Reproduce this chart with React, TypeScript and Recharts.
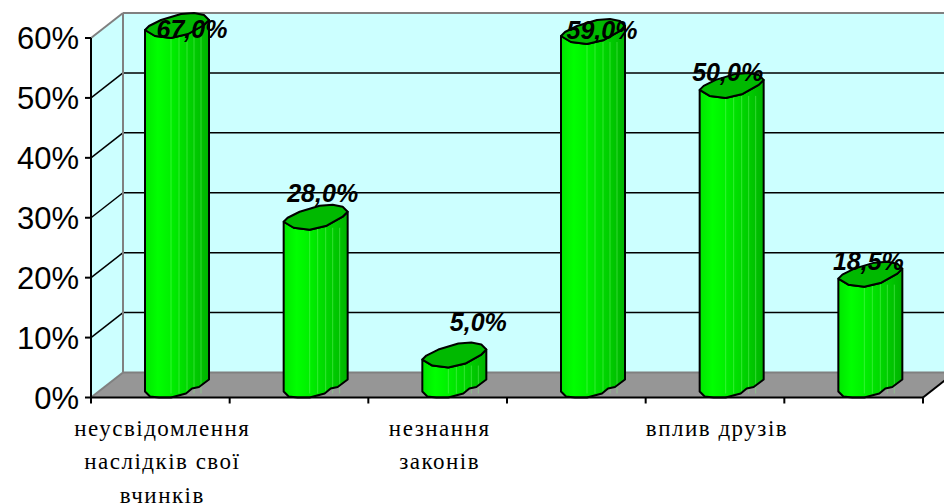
import { Bar, BarChart, LabelList, XAxis, YAxis, usePlotArea } from 'recharts';

const categories = ['неусвідомлення\nнаслідків свої\nвчинків', ' ', 'незнання\nзаконів', '  ', 'вплив друзів', '   '];
const shares = [67, 28, 5, 59, 50, 18.5];
const valueTicks = [0, 10, 20, 30, 40, 50, 60];
const MAX_VALUE = 60;

// hand-moved data labels in the original, dx/dy from the bar's top left
const labelNudges = [[47, -8], [39, -36], [56, -45], [41, -13], [28, -25], [30, -25]];

const data = categories.map((category, i) => ({ category, share: shares[i] }));

const DEPTH_X = 32;
const DEPTH_Y = 25;
const BAR_WIDTH = 64;
const BAR_SHIFT = 17; // cylinders stand in the middle of the floor depth
const WALL = '#ccffff';
const FLOOR = '#969696';
const EDGE = '#808080';

// outline of the top and bottom of a cylinder, as drawn in the source image
const topRim = [[0, -8], [4, -12], [16, -18], [36, -24], [49, -25], [59, -23], [64, -18], [59, -13], [43, -4], [26, 0], [10, -2]];
const bottomRim = [[0, -6], [5, -1], [14, 0], [26, 0], [41, -4], [47, -9], [54, -10.5], [64, -18]];
const frontRim = [[64, -18], [59, -13], [43, -4], [26, 0], [10, -2], [0, -8]];
const stripes = [26, 34, 42, 49, 56];

const pts = (list: number[][], x: number, y: number) => list.map(([a, b]) => `${x + a},${y + b}`).join(' L');

function Cylinder(props: any) {
  const left = props.x + BAR_SHIFT;
  const top = props.y;
  const base = props.y + props.height;
  const side = `M${pts(bottomRim, left, base)} L${pts(frontRim, left, top)} Z`;
  return (
    <g>
      <path d={side} fill="url(#cylinderSide)" stroke="none" />
      {stripes.map((s) => (
        <line key={s} x1={left + s} x2={left + s} y1={top - 2} y2={base - 4} stroke="#7dff7d" strokeOpacity={0.4} strokeWidth={1} />
      ))}
      <path d={side} fill="none" stroke="#000" strokeWidth={2} strokeLinejoin="round" />
      <path d={`M${pts(topRim, left, top)} Z`} fill="#00b900" stroke="#000" strokeWidth={2} strokeLinejoin="round" />
    </g>
  );
}

function Backdrop() {
  const plot = usePlotArea();
  if (!plot) return null;
  const { x, y, width, height } = plot;
  const right = x + width;
  const bottom = y + height;
  const yOf = (v: number) => bottom - (v / MAX_VALUE) * height;
  const step = width / categories.length;
  return (
    <g>
      <defs>
        <linearGradient id="cylinderSide" x1="0" x2="1" y1="0" y2="0">
          <stop offset="0" stopColor="#00e600" />
          <stop offset="0.2" stopColor="#00ff00" />
          <stop offset="0.4" stopColor="#00f000" />
          <stop offset="0.65" stopColor="#00d800" />
          <stop offset="1" stopColor="#00b400" />
        </linearGradient>
      </defs>
      <rect x={x + DEPTH_X} y={y - DEPTH_Y} width={width} height={height} fill={WALL} />
      <polygon points={`${x},${y} ${x + DEPTH_X},${y - DEPTH_Y} ${x + DEPTH_X},${bottom - DEPTH_Y} ${x},${bottom}`} fill={WALL} />
      <polygon points={`${x},${bottom} ${x + DEPTH_X},${bottom - DEPTH_Y} ${right + DEPTH_X},${bottom - DEPTH_Y} ${right},${bottom}`} fill={FLOOR} />
      {valueTicks.filter((v) => v > 0 && v < MAX_VALUE).map((v) => (
        <g key={v} stroke="#000" strokeWidth={1.5}>
          <line x1={x} y1={yOf(v)} x2={x + DEPTH_X} y2={yOf(v) - DEPTH_Y} />
          <line x1={x + DEPTH_X} y1={yOf(v) - DEPTH_Y} x2={right + DEPTH_X} y2={yOf(v) - DEPTH_Y} />
        </g>
      ))}
      <g stroke={EDGE} strokeWidth={2}>
        <line x1={x} y1={y} x2={x + DEPTH_X} y2={y - DEPTH_Y} />
        <line x1={x + DEPTH_X} y1={y - DEPTH_Y} x2={right + DEPTH_X} y2={y - DEPTH_Y} />
        <line x1={x + DEPTH_X} y1={y - DEPTH_Y} x2={x + DEPTH_X} y2={bottom - DEPTH_Y} />
        <line x1={x} y1={bottom} x2={x + DEPTH_X} y2={bottom - DEPTH_Y} />
        <line x1={x + DEPTH_X} y1={bottom - DEPTH_Y} x2={right + DEPTH_X} y2={bottom - DEPTH_Y} />
      </g>
      <line x1={right} y1={bottom} x2={right + DEPTH_X} y2={bottom - DEPTH_Y} stroke="#000" strokeWidth={2} />
      {categories.map((_, i) => i).concat(categories.length).map((i) => (
        <line key={i} x1={x + i * step} x2={x + i * step} y1={bottom} y2={bottom + 6} stroke="#000" strokeWidth={2} />
      ))}
    </g>
  );
}

function CategoryTick({ x, y, payload }: any) {
  const lines = String(payload.value).trim().split('\n').filter(Boolean);
  return (
    <text x={x} fill="#000" fontFamily="'Liberation Serif', serif" fontSize={23} textAnchor="middle" letterSpacing={1.5}>
      {lines.map((line, i) => (
        <tspan key={line} x={x + 2} y={y + 30 + i * 33.5}>{line}</tspan>
      ))}
    </text>
  );
}

function ShareLabel({ x, y, value, index }: any) {
  const [dx, dy] = labelNudges[index];
  return (
    <text
      x={x + BAR_SHIFT + dx}
      y={y + dy}
      dy={8}
      textAnchor="middle"
      fontFamily="'Liberation Sans', Arial, sans-serif"
      fontWeight="bold"
      fontStyle="italic"
      fontSize={25}
      fill="#000"
    >
      {Number(value).toFixed(1).replace('.', ',')}%
    </text>
  );
}

export default function App() {
  return (
    <div style={{ position: 'absolute', left: 0, top: 0, width: 944, height: 504, overflow: 'hidden', background: '#fff' }}>
      <BarChart width={944} height={504} data={data} margin={{ top: 38, right: 21, bottom: 0, left: 0 }} barSize={BAR_WIDTH}>
        <Backdrop />
        <XAxis
          dataKey="category"
          interval={0}
          tickLine={false}
          axisLine={{ stroke: '#000', strokeWidth: 2 }}
          tick={<CategoryTick />}
          height={106.5}
        />
        <YAxis
          domain={[0, MAX_VALUE]}
          ticks={valueTicks}
          width={91}
          tickFormatter={(v: number) => `${v}%`}
          axisLine={{ stroke: '#000', strokeWidth: 2 }}
          tickLine={{ stroke: '#000', strokeWidth: 2 }}
          tickSize={6}
          tickMargin={6}
          tick={{ fill: '#000', fontSize: 31, fontFamily: "'Liberation Sans', Arial, sans-serif" }}
        />
        <Bar dataKey={(d: { share: number }) => Math.min(d.share, MAX_VALUE)} shape={<Cylinder />} isAnimationActive={false}>
          <LabelList dataKey="share" content={<ShareLabel />} />
        </Bar>
      </BarChart>
    </div>
  );
}
